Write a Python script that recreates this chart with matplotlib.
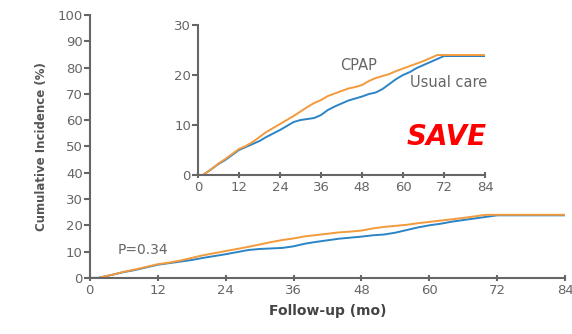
import matplotlib.pyplot as plt

# Follow-up time (months) and cumulative incidence (%)
months = [0, 1.5, 4, 6, 8, 10, 12, 14, 16, 18, 20, 22, 24, 26, 28, 30, 32, 34, 36,
          38, 40, 42, 44, 46, 48, 50, 52, 54, 56, 58, 60, 62, 64, 66, 68, 70, 72, 84]
usual_care = [0, 0, 1.2, 2.2, 3.0, 4.0, 5.0, 5.6, 6.2, 6.8, 7.6, 8.3, 9.0, 9.8, 10.6,
              11.0, 11.2, 11.4, 12.0, 13.0, 13.7, 14.3, 14.9, 15.3, 15.7, 16.2, 16.5,
              17.2, 18.2, 19.2, 20.0, 20.6, 21.4, 22.0, 22.6, 23.2, 23.8, 23.8]
cpap = [0, 0, 1.2, 2.3, 3.2, 4.2, 5.2, 5.8, 6.6, 7.6, 8.6, 9.4, 10.2, 11.0, 11.8,
        12.7, 13.6, 14.4, 15.0, 15.8, 16.3, 16.8, 17.3, 17.6, 18.0, 18.8, 19.4,
        19.8, 20.2, 20.8, 21.3, 21.8, 22.3, 22.8, 23.4, 24.0, 24.0, 24.0]

x_ticks = [0, 12, 24, 36, 48, 60, 72, 84]
main_yticks = list(range(0, 101, 10))
inset_yticks = [0, 10, 20, 30]

orange = '#F39A3C'
blue = '#2B84C6'
grey = '#666666'

plt.rcParams['font.family'] = ['DejaVu Sans']

fig = plt.figure(figsize=(5.72, 3.34), dpi=100)


def style_axes(ax, yticks, ylim, fs):
    for side in ['top', 'right']:
        ax.spines[side].set_visible(False)
    for side in ['left', 'bottom']:
        ax.spines[side].set_color(grey)
        ax.spines[side].set_linewidth(1.5)
    ax.set_xlim(0, 84)
    ax.set_ylim(*ylim)
    ax.set_xticks(x_ticks)
    ax.set_yticks(yticks)
    ax.tick_params(axis='x', direction='inout', length=5, width=1.5,
                   color=grey, labelcolor=grey, labelsize=fs, pad=2)
    ax.tick_params(axis='y', direction='out', length=4, width=1.5,
                   color=grey, labelcolor=grey, labelsize=fs, pad=1)
    ax.patch.set_alpha(0)


# Main plot
ax = fig.add_axes([0.157, 0.168, 0.831, 0.787])
ax.plot(months, usual_care, color=blue, lw=1.4)
ax.plot(months, cpap, color=orange, lw=1.4)
style_axes(ax, main_yticks, (0, 100), 9.5)
ax.set_xlabel('Follow-up (mo)', fontsize=10, fontweight='bold', color='#444444', labelpad=5)
ax.set_ylabel('Cumulative Incidence (%)', fontsize=8.5, fontweight='bold',
              color='#555555', labelpad=7)
ax.text(5, 9, 'P=0.34', fontsize=10, color=grey)

# Inset zoomed on 0-30%
axin = fig.add_axes([0.346, 0.476, 0.502, 0.449])
axin.plot(months, usual_care, color=blue, lw=1.4)
axin.plot(months, cpap, color=orange, lw=1.4)
style_axes(axin, inset_yticks, (0, 30), 9.5)
axin.text(41.5, 21.0, 'CPAP', fontsize=10.5, color=grey)
axin.text(62, 17.6, 'Usual care', fontsize=10.5, color=grey)
axin.text(61, 6.0, 'SAVE', fontsize=20, color='#FF0000', fontweight='bold',
          fontstyle='italic')

fig.savefig('out.png', dpi=100)
